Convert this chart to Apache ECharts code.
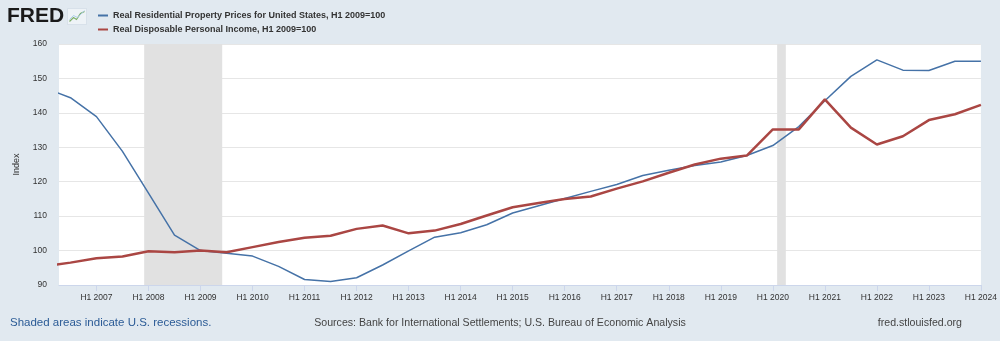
<!DOCTYPE html>
<html>
<head>
<meta charset="utf-8">
<script src="https://cdn.jsdelivr.net/npm/echarts@6/dist/echarts.min.js"></script>
<style>
html,body{margin:0;padding:0;background:#e1e9f0;}
#chart{width:1000px;height:341px;}
</style>
</head>
<body>
<div id="chart"></div>
<script>
// ---- data ----
const periods = [2006, 2006.5, 2007, 2007.5, 2008, 2008.5, 2009, 2009.5, 2010, 2010.5,
  2011, 2011.5, 2012, 2012.5, 2013, 2013.5, 2014, 2014.5, 2015, 2015.5,
  2016, 2016.5, 2017, 2017.5, 2018, 2018.5, 2019, 2019.5, 2020, 2020.5,
  2021, 2021.5, 2022, 2022.5, 2023, 2023.5, 2024];
const propertyPrices = [147.3, 144.4, 138.9, 128.8, 116.7, 104.5, 100.0, 99.2, 98.4, 95.4,
  91.6, 91.0, 92.1, 95.8, 99.9, 103.9, 105.2, 107.5, 110.9, 113.0,
  115.1, 117.2, 119.2, 121.8, 123.3, 124.7, 125.7, 127.6, 130.5, 136.0,
  143.5, 150.6, 155.4, 152.4, 152.3, 155.0, 155.0];
const disposableIncome = [95.4, 96.5, 97.8, 98.3, 99.8, 99.5, 100.0, 99.5, 101.0, 102.5,
  103.7, 104.3, 106.3, 107.3, 105.0, 105.8, 107.7, 110.2, 112.6, 113.8,
  115.0, 115.7, 118.0, 120.1, 122.6, 125.0, 126.7, 127.6, 135.2, 135.2,
  143.9, 135.7, 130.8, 133.2, 137.9, 139.6, 142.3];
const tickYears = [2007, 2008, 2009, 2010, 2011, 2012, 2013, 2014, 2015, 2016,
  2017, 2018, 2019, 2020, 2021, 2022, 2023, 2024];
const recessions = [[2007.917, 2009.417], [2020.083, 2020.25]];
const seriesNames = ['Real Residential Property Prices for United States, H1 2009=100',
  'Real Disposable Personal Income, H1 2009=100'];
const yTicks = [90, 100, 110, 120, 130, 140, 150, 160];

const chart = echarts.init(document.getElementById('chart'), null, {renderer: 'canvas'});
const FONT = '"Liberation Sans", Arial, Helvetica, sans-serif';

const option = {
  backgroundColor: '#e1e9f0',
  animation: false,
  textStyle: {fontFamily: FONT},
  grid: {left: 59, right: 15, top: 44, bottom: 56, show: true, backgroundColor: '#ffffff', borderWidth: 0},
  legend: {
    orient: 'vertical', left: 93, top: 5, itemWidth: 10, itemHeight: 2, itemGap: 3,
    icon: 'rect',
    textStyle: {fontSize: 9, fontWeight: 'bold', color: '#333', fontFamily: FONT, lineHeight: 11},
    data: seriesNames
  },
  xAxis: {
    type: 'value', min: 2006.28, max: 2024,
    axisLine: {show: true, lineStyle: {color: '#ccd6eb', width: 1}},
    axisTick: {show: true, customValues: tickYears, length: 6, lineStyle: {color: '#ccd6eb'}},
    axisLabel: {customValues: tickYears, formatter: v => 'H1 ' + Math.round(v), fontSize: 8.5, color: '#333', margin: 8, fontFamily: FONT},
    splitLine: {show: false}
  },
  yAxis: {
    type: 'value', min: yTicks[0], max: yTicks[yTicks.length - 1], interval: 10,
    name: 'Index', nameLocation: 'middle', nameGap: 38, nameRotate: 90,
    nameTextStyle: {fontSize: 9, color: '#333', fontFamily: FONT},
    axisLine: {show: false}, axisTick: {show: false},
    axisLabel: {fontSize: 8.5, color: '#333', margin: 12, fontFamily: FONT, padding: [0, 0, 6, 0]},
    splitLine: {lineStyle: {color: '#e6e6e6', width: 1}}
  },
  series: [
    {
      name: seriesNames[0], type: 'line', symbol: 'none', clip: true,
      color: '#4572a7', lineStyle: {width: 1.5, color: '#4572a7'},
      data: periods.map((p, i) => [p, propertyPrices[i]]),
      markArea: {
        silent: true,
        itemStyle: {color: '#e1e1e1'},
        data: recessions.map(r => [{xAxis: r[0]}, {xAxis: r[1]}])
      },
      z: 3
    },
    {
      name: seriesNames[1], type: 'line', symbol: 'none', clip: true,
      color: '#aa4643', lineStyle: {width: 2.5, color: '#aa4643'},
      data: periods.map((p, i) => [p, disposableIncome[i]]),
      z: 4
    }
  ],
  graphic: [
    {type: 'text', left: 7, top: 6, style: {text: 'FRED', font: 'bold 21px ' + FONT, fill: '#1a1a1a'}},
    {type: 'group', left: 67, top: 8, children: [
      {type: 'rect', shape: {x: 0, y: 0, width: 19, height: 16}, style: {fill: '#eef3f7', stroke: '#c9d5e0', lineWidth: 0.5}},
      {type: 'polyline', shape: {points: [[2, 13], [6, 9], [9, 11], [13, 5], [17, 3]]}, style: {stroke: '#7fb069', lineWidth: 1.2, fill: null}},
      {type: 'polyline', shape: {points: [[2, 11], [6, 7], [10, 9], [17, 2]]}, style: {stroke: '#9fc5e8', lineWidth: 0.8, fill: null}}
    ]},
    {type: 'text', left: 10, top: 317, style: {text: 'Shaded areas indicate U.S. recessions.', font: '11.5px ' + FONT, fill: '#2b5b96'}},
    {type: 'text', left: 'center', top: 318, style: {text: 'Sources: Bank for International Settlements; U.S. Bureau of Economic Analysis', font: '10.6px ' + FONT, fill: '#444'}},
    {type: 'text', right: 38, top: 318, style: {text: 'fred.stlouisfed.org', font: '10.6px ' + FONT, fill: '#444'}}
  ]
};
chart.setOption(option);
</script>
</body>
</html>
